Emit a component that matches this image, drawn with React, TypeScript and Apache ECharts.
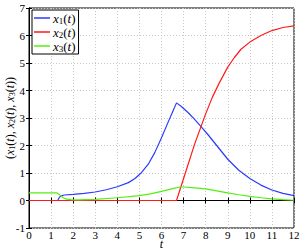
import React, { useEffect, useRef } from "react";
import * as echarts from "echarts";

const tX1 = [0, 1.3, 1.38, 1.45, 1.6, 2, 2.5, 3, 3.5, 4, 4.5, 4.8, 5.1, 5.4, 5.7, 6, 6.3, 6.5, 6.68, 6.9, 7.2, 7.5, 7.8, 8.1, 8.5, 9, 9.5, 10, 10.5, 11, 11.5, 12];
const x1 = [0, 0, 0.12, 0.17, 0.2, 0.22, 0.26, 0.31, 0.39, 0.5, 0.65, 0.8, 1.02, 1.32, 1.75, 2.28, 2.85, 3.22, 3.55, 3.42, 3.2, 2.95, 2.68, 2.4, 2.0, 1.5, 1.1, 0.8, 0.56, 0.38, 0.26, 0.18];
const tX2 = [0, 6.68, 7, 7.5, 8, 8.3, 8.6, 9, 9.3, 9.6, 10, 10.5, 11, 11.5, 12];
const x2 = [0, 0, 0.8, 2.05, 3.15, 3.75, 4.25, 4.85, 5.2, 5.5, 5.76, 6.0, 6.18, 6.29, 6.35];
const tX3 = [0, 1.25, 1.4, 1.55, 1.7, 1.9, 2.2, 3, 4, 5, 5.5, 6, 6.5, 6.9, 7.5, 8, 8.5, 9, 9.5, 10, 10.5, 11, 11.5, 12];
const x3 = [0.28, 0.28, 0.2, 0.1, 0.05, 0.03, 0.02, 0.04, 0.1, 0.18, 0.24, 0.33, 0.43, 0.5, 0.46, 0.42, 0.35, 0.28, 0.21, 0.15, 0.1, 0.06, 0.03, 0.01];
const seriesNames = ["x1(t)", "x2(t)", "x3(t)"];
const colors = ["#2a3cff", "#ff1a1a", "#55ee11"];

const FONT = "'Liberation Serif', 'DejaVu Serif', serif";

function pairs(t: number[], v: number[]) {
  return t.map((tt, i) => [tt, v[i]]);
}

export default function App() {
  const ref = useRef<HTMLDivElement>(null);
  useEffect(() => {
    const chart = echarts.init(ref.current!, null, { renderer: "svg" });
    const rich = {
      i: { fontFamily: FONT, fontStyle: "italic", fontSize: 13, color: "#000", lineHeight: 12 },
      p: { fontFamily: FONT, fontSize: 13, color: "#000", lineHeight: 12 },
      s: { fontFamily: FONT, fontSize: 9, color: "#000", lineHeight: 12, padding: [5, 0, 0, 0] },
    };
    const richY = {
      i: { fontFamily: FONT, fontStyle: "italic", fontSize: 12, color: "#000", lineHeight: 12 },
      p: { fontFamily: FONT, fontSize: 12, color: "#000", lineHeight: 12 },
      s: { fontFamily: FONT, fontSize: 8, color: "#000", lineHeight: 12, padding: [5, 0, 0, 0] },
    };
    const fmt = (name: string) => {
      const n = name.charAt(1);
      return `{i|x}{s|${n}}{p|(}{i|t}{p|)}`;
    };
    const gridLine = { show: true, lineStyle: { color: "#c8c8c8", type: [1, 2], width: 1 } };
    const mkSeries = (i: number, t: number[], v: number[]) => ({
      name: seriesNames[i],
      type: "line",
      data: pairs(t, v),
      smooth: false,
      symbol: "none",
      lineStyle: { color: colors[i], width: 1.2 },
      itemStyle: { color: colors[i] },
    });
    chart.setOption({
      animation: false,
      grid: {
        left: 29, right: 7, top: 8, bottom: 22,
        containLabel: false, outerBoundsMode: "none",
        show: true, borderColor: "#000", borderWidth: 1, backgroundColor: "#fff",
      },
      legend: {
        left: 32,
        top: 10,
        orient: "vertical",
        data: seriesNames,
        icon: "rect",
        itemWidth: 16,
        itemHeight: 1.5,
        itemGap: 0,
        padding: [1, 3, 1, 2],
        backgroundColor: "#fff",
        borderColor: "#000",
        borderWidth: 1,
        formatter: fmt,
        textStyle: { rich, lineHeight: 12, padding: [0, 0, 0, -2] },
      },
      xAxis: [
        {
          type: "value",
          min: 0,
          max: 12,
          interval: 1,
          name: "t",
          nameLocation: "middle",
          nameGap: 12,
          nameMoveOverlap: false,
          nameTextStyle: { fontFamily: FONT, fontStyle: "italic", fontSize: 12, lineHeight: 8, color: "#000" },
          axisLine: { show: true, lineStyle: { color: "#000" } },
          axisTick: { inside: true, length: 3, lineStyle: { color: "#000" } },
          axisLabel: { margin: 2, fontFamily: FONT, fontSize: 11, lineHeight: 10, color: "#000" },
          splitLine: gridLine,
        },
        {
          type: "value",
          min: 0,
          max: 12,
          interval: 1,
          position: "top",
          axisLine: { show: true, lineStyle: { color: "#000" } },
          axisTick: { inside: true, length: 3, lineStyle: { color: "#000" } },
          axisLabel: { show: false },
          splitLine: { show: false },
        },
      ],
      yAxis: [
        {
          type: "value",
          min: -1,
          max: 7,
          interval: 1,
          name: "{p|(}{i|x}{s|1}{p|(}{i|t}{p|), }{i|x}{s|2}{p|(}{i|t}{p|), }{i|x}{s|3}{p|(}{i|t}{p|))}",
          nameLocation: "middle",
          nameGap: 13,
          nameRotate: 90,
          nameMoveOverlap: false,
          nameTextStyle: { rich: richY },
          axisLine: { show: true, lineStyle: { color: "#000" } },
          axisTick: { inside: true, length: 3, lineStyle: { color: "#000" } },
          axisLabel: { margin: 4, fontFamily: FONT, fontSize: 11, color: "#000" },
          splitLine: gridLine,
        },
        {
          type: "value",
          min: -1,
          max: 7,
          interval: 1,
          position: "right",
          axisLine: { show: true, lineStyle: { color: "#000" } },
          axisTick: { inside: true, length: 3, lineStyle: { color: "#000" } },
          axisLabel: { show: false },
          splitLine: { show: false },
        },
      ],
      series: [mkSeries(0, tX1, x1), mkSeries(1, tX2, x2), mkSeries(2, tX3, x3)],
    });
    return () => chart.dispose();
  }, []);
  return <div ref={ref} style={{ width: 301, height: 250, position: "absolute", left: 0, top: 0 }} />;
}
